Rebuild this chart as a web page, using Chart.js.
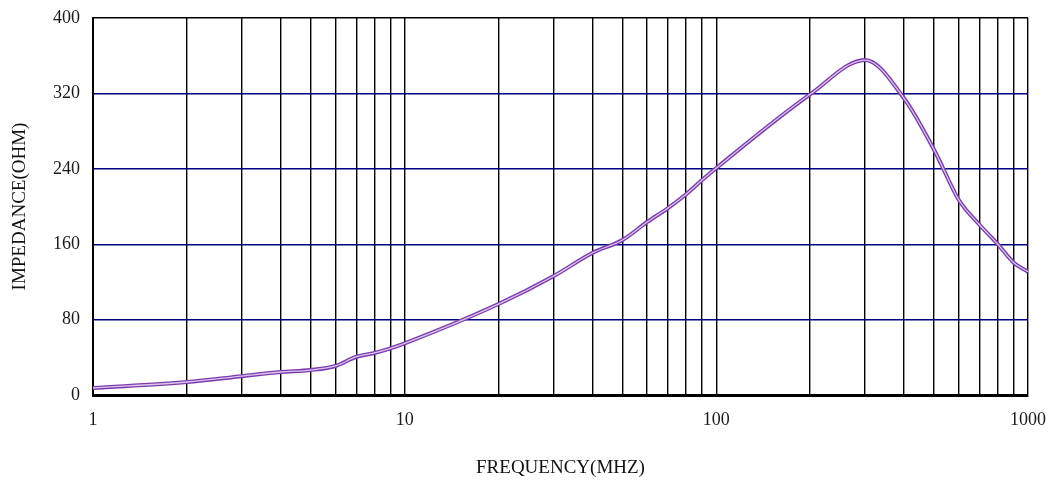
<!DOCTYPE html>
<html>
<head>
    <meta charset="utf-8">
    <title>Impedance vs Frequency</title>
    <script src="https://cdn.jsdelivr.net/npm/chart.js"></script>
    <style>
        html, body { margin: 0; padding: 0; background: #fff; }
        #chart { display: block; }
    </style>
</head>
<body>
    <canvas id="chart" width="1053" height="483"></canvas>
    <script>
        // values
        const freqs = [1, 2, 3, 4, 5, 6, 7, 8, 9, 10, 20, 30, 40, 50, 60, 70, 80, 90, 100,
                       200, 300, 400, 500, 600, 700, 800, 900, 1000];
        const impedance = [7.4, 13.8, 20, 24.4, 26.5, 30.8, 40.6, 44.6, 49.5, 54.8, 96.5, 126, 150.7, 164.5,
                           183.6, 198.4, 213, 228, 240.8, 319, 355.4, 314.8, 260, 206.9, 180.4, 160, 140.4, 130.8];
        const xGridTicks = [1, 2, 3, 4, 5, 6, 7, 8, 9, 10, 20, 30, 40, 50, 60, 70, 80, 90, 100,
                            200, 300, 400, 500, 600, 700, 800, 900, 1000];
        const xLabels = [1, 10, 100, 1000];

        const points = freqs.map((f, i) => ({ x: f, y: impedance[i] }));
        const font = 'Liberation Serif';

        new Chart(document.getElementById('chart'), {
            type: 'line',
            data: {
                datasets: [
                    {
                        data: points,
                        borderColor: '#dcc6ee',
                        borderWidth: 1.3,
                        pointRadius: 0,
                        cubicInterpolationMode: 'monotone'
                    },
                    {
                        data: points,
                        borderColor: '#7a3cae',
                        borderWidth: 4,
                        pointRadius: 0,
                        cubicInterpolationMode: 'monotone'
                    }
                ]
            },
            options: {
                responsive: false,
                animation: false,
                layout: { padding: { left: 0, right: 25, top: 18, bottom: 0 } },
                plugins: { legend: { display: false }, tooltip: { enabled: false } },
                scales: {
                    x: {
                        type: 'logarithmic',
                        min: 1,
                        max: 1000,
                        afterBuildTicks: scale => {
                            scale.ticks = xGridTicks.map(v => ({ value: v }));
                        },
                        afterFit: scale => {
                            scale.height = 88;
                            scale.paddingLeft = 0;
                            scale.paddingRight = 0;
                        },
                        ticks: {
                            autoSkip: false,
                            maxRotation: 0,
                            padding: 14,
                            color: '#1a1a1a',
                            font: { family: font, size: 18 },
                            callback: v => xLabels.includes(v) ? String(v) : ''
                        },
                        grid: { color: '#000', lineWidth: 1.4, drawTicks: false },
                        border: { color: '#000', width: 3 },
                        title: {
                            display: true,
                            text: 'FREQUENCY(MHZ)',
                            color: '#111',
                            font: { family: font, size: 19 },
                            padding: { top: 4, bottom: 4 }
                        }
                    },
                    y: {
                        min: 0,
                        max: 400,
                        afterFit: scale => {
                            scale.width = 93;
                            scale.paddingTop = 0;
                            scale.paddingBottom = 0;
                        },
                        ticks: {
                            stepSize: 80,
                            padding: 13,
                            color: '#1a1a1a',
                            font: { family: font, size: 18 }
                        },
                        grid: {
                            color: ctx => ctx.tick && ctx.tick.value === 400 ? '#000' : '#000080',
                            lineWidth: 1.4,
                            drawTicks: false
                        },
                        border: { color: '#000', width: 2 },
                        title: {
                            display: true,
                            text: 'IMPEDANCE(OHM)',
                            color: '#111',
                            font: { family: font, size: 19 },
                            padding: { top: 9, bottom: 9 }
                        }
                    }
                }
            }
        });
    </script>
</body>
</html>
